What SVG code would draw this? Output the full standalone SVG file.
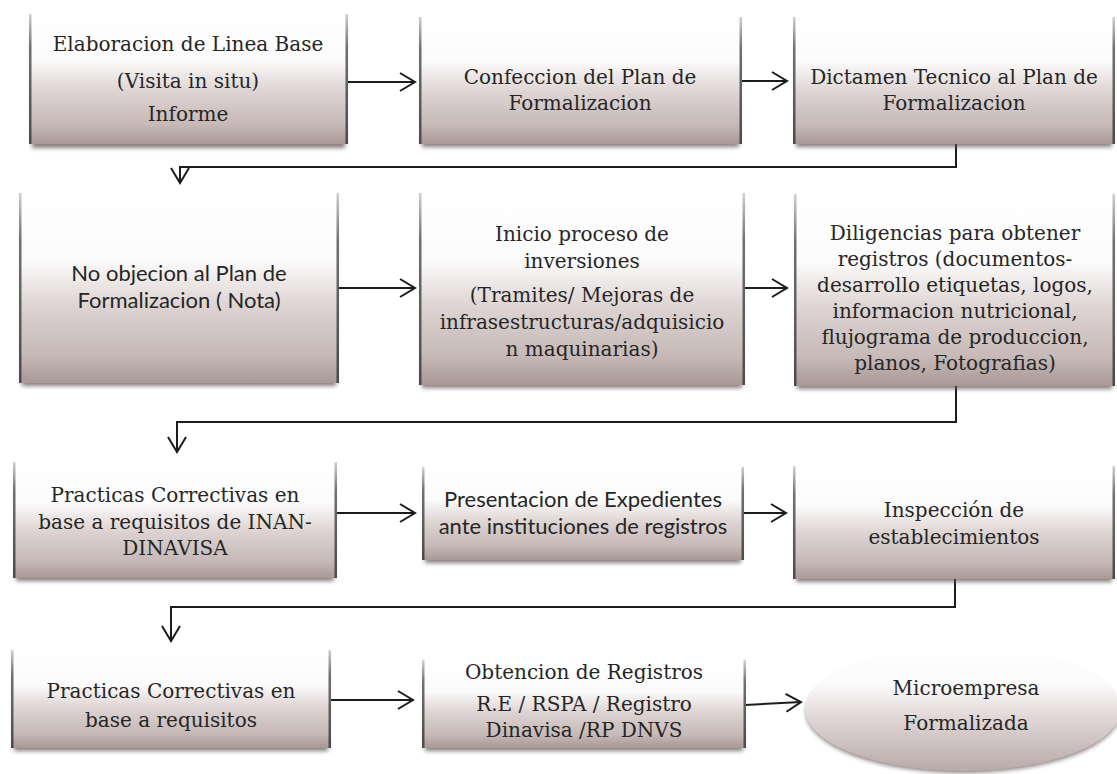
<svg xmlns="http://www.w3.org/2000/svg" width="1117" height="774" viewBox="0 0 1117 774">
<style>
.box{fill:url(#boxFill)}
.edge{fill:url(#edgeFill)}
.shadow{fill:#5e5251;opacity:0.75;filter:url(#blur)}
.serif{font-family:"DejaVu Serif","Liberation Serif",serif;font-size:20px;fill:#262626;text-anchor:middle}
.sans{font-family:Lato,"Liberation Sans",sans-serif;font-size:22px;fill:#262626;text-anchor:middle}
.conn{fill:none;stroke:#1c1c1c;stroke-width:2}
</style>
<defs>
<linearGradient id="boxFill" x1="0" y1="0" x2="0" y2="1">
<stop offset="0" stop-color="#ffffff"/>
<stop offset="0.35" stop-color="#fcfbfb"/>
<stop offset="0.6" stop-color="#dcd3d2"/>
<stop offset="0.85" stop-color="#c6b9b7"/>
<stop offset="1" stop-color="#a89896"/>
</linearGradient>
<linearGradient id="ellFill" x1="0" y1="0" x2="0" y2="1">
<stop offset="0" stop-color="#ffffff"/>
<stop offset="0.3" stop-color="#fbfafa"/>
<stop offset="0.6" stop-color="#ddd4d3"/>
<stop offset="1" stop-color="#b8aaa8"/>
</linearGradient>
<linearGradient id="edgeFill" x1="0" y1="0" x2="0" y2="1">
<stop offset="0" stop-color="#d0d0d0"/>
<stop offset="0.25" stop-color="#707070"/>
<stop offset="1" stop-color="#4a4a4a"/>
</linearGradient>
<filter id="blur" x="-10%" y="-10%" width="120%" height="130%">
<feGaussianBlur stdDeviation="2"/>
</filter>
<marker id="arr" viewBox="-18 -11 20 22" refX="0" refY="0" markerWidth="20" markerHeight="22" markerUnits="userSpaceOnUse" orient="auto">
<path d="M-15,-9 L0,0 L-15,9" fill="none" stroke="#1c1c1c" stroke-width="2"/>
</marker>
</defs>
<rect width="1117" height="774" fill="#ffffff"/>

<g id="connectors">
<path class="conn" d="M347,82 H415" marker-end="url(#arr)"/>
<path class="conn" d="M741,81 H787" marker-end="url(#arr)"/>
<path class="conn" d="M956,144 V167 H180 V183" marker-end="url(#arr)"/>
<path class="conn" d="M338,288 H415" marker-end="url(#arr)"/>
<path class="conn" d="M744,288 H787" marker-end="url(#arr)"/>
<path class="conn" d="M956,384 V422 H177 V452" marker-end="url(#arr)"/>
<path class="conn" d="M336,513 H415" marker-end="url(#arr)"/>
<path class="conn" d="M743,513 H786" marker-end="url(#arr)"/>
<path class="conn" d="M955,579 V607 H171 V641" marker-end="url(#arr)"/>
<path class="conn" d="M330,700 H413" marker-end="url(#arr)"/>
<path class="conn" d="M745,705 L801,702" marker-end="url(#arr)"/>
</g>

<g id="n1">
<rect class="shadow" x="32" y="20" width="313" height="128"/>
<rect class="box" x="30" y="14" width="317" height="130"/>
<rect class="edge" x="29" y="14" width="2.5" height="130"/>
<rect class="edge" x="345.5" y="14" width="2.5" height="130"/>
<text class="serif" x="188" y="51">Elaboracion de Linea Base</text>
<text class="serif" x="188" y="88">(Visita in situ)</text>
<text class="serif" x="188" y="121">Informe</text>
</g>

<g id="n2">
<rect class="shadow" x="422" y="23" width="317" height="124"/>
<rect class="box" x="420" y="17" width="321" height="127"/>
<rect class="edge" x="419" y="17" width="2.5" height="127"/>
<rect class="edge" x="739.5" y="17" width="2.5" height="127"/>
<text class="serif" x="580" y="84">Confeccion del Plan de</text>
<text class="serif" x="580" y="110">Formalizacion</text>
</g>

<g id="n3">
<rect class="shadow" x="796" y="23" width="316" height="124"/>
<rect class="box" x="794" y="17" width="320" height="127"/>
<rect class="edge" x="793" y="17" width="2.5" height="127"/>
<rect class="edge" x="1112.5" y="17" width="2.5" height="127"/>
<text class="serif" x="954" y="84">Dictamen Tecnico al Plan de</text>
<text class="serif" x="954" y="110">Formalizacion</text>
</g>

<g id="n4">
<rect class="shadow" x="22" y="199" width="314" height="187"/>
<rect class="box" x="20" y="193" width="318" height="190"/>
<rect class="edge" x="19" y="193" width="2.5" height="190"/>
<rect class="edge" x="336.5" y="193" width="2.5" height="190"/>
<text class="sans" x="179" y="281">No objecion al Plan de</text>
<text class="sans" x="179" y="308">Formalizacion ( Nota)</text>
</g>

<g id="n5">
<rect class="shadow" x="422" y="199" width="320" height="189"/>
<rect class="box" x="420" y="193" width="324" height="192"/>
<rect class="edge" x="419" y="193" width="2.5" height="192"/>
<rect class="edge" x="742.5" y="193" width="2.5" height="192"/>
<text class="serif" x="582" y="241">Inicio proceso de</text>
<text class="serif" x="582" y="268">inversiones</text>
<text class="serif" x="582" y="302">(Tramites/ Mejoras de</text>
<text class="serif" x="582" y="329">infrasestructuras/adquisicio</text>
<text class="serif" x="582" y="356">n maquinarias)</text>
</g>

<g id="n6">
<rect class="shadow" x="797" y="200" width="315" height="189"/>
<rect class="box" x="795" y="194" width="319" height="192"/>
<rect class="edge" x="794" y="194" width="2.5" height="192"/>
<rect class="edge" x="1112.5" y="194" width="2.5" height="192"/>
<text class="serif" x="955" y="240">Diligencias para obtener</text>
<text class="serif" x="955" y="266">registros (documentos-</text>
<text class="serif" x="955" y="292">desarrollo etiquetas, logos,</text>
<text class="serif" x="955" y="318">informacion nutricional,</text>
<text class="serif" x="955" y="344">flujograma de produccion,</text>
<text class="serif" x="955" y="370">planos, Fotografias)</text>
</g>

<g id="n7">
<rect class="shadow" x="16" y="468" width="318" height="113"/>
<rect class="box" x="14" y="462" width="322" height="116"/>
<rect class="edge" x="13" y="462" width="2.5" height="116"/>
<rect class="edge" x="334.5" y="462" width="2.5" height="116"/>
<text class="serif" x="175" y="502">Practicas Correctivas en</text>
<text class="serif" x="175" y="529">base a requisitos de INAN-</text>
<text class="serif" x="175" y="555">DINAVISA</text>
</g>

<g id="n8">
<rect class="shadow" x="425" y="473" width="316" height="90"/>
<rect class="box" x="423" y="467" width="320" height="93"/>
<rect class="edge" x="422" y="467" width="2.5" height="93"/>
<rect class="edge" x="741.5" y="467" width="2.5" height="93"/>
<text class="sans" x="583" y="507">Presentacion de Expedientes</text>
<text class="sans" x="583" y="534">ante instituciones de registros</text>
</g>

<g id="n9">
<rect class="shadow" x="796" y="472" width="316" height="110"/>
<rect class="box" x="794" y="466" width="320" height="113"/>
<rect class="edge" x="793" y="466" width="2.5" height="113"/>
<rect class="edge" x="1112.5" y="466" width="2.5" height="113"/>
<text class="serif" x="954" y="517">Inspección de</text>
<text class="serif" x="954" y="544">establecimientos</text>
</g>

<g id="n10">
<rect class="shadow" x="14" y="656" width="314" height="95"/>
<rect class="box" x="12" y="650" width="318" height="98"/>
<rect class="edge" x="11" y="650" width="2.5" height="98"/>
<rect class="edge" x="328.5" y="650" width="2.5" height="98"/>
<text class="serif" x="171" y="698">Practicas Correctivas en</text>
<text class="serif" x="171" y="727">base a requisitos</text>
</g>

<g id="n11">
<rect class="shadow" x="425" y="666" width="318" height="85"/>
<rect class="box" x="423" y="660" width="322" height="88"/>
<rect class="edge" x="422" y="660" width="2.5" height="88"/>
<rect class="edge" x="743.5" y="660" width="2.5" height="88"/>
<text class="serif" x="584" y="679">Obtencion de Registros</text>
<text class="serif" x="584" y="711">R.E / RSPA / Registro</text>
<text class="serif" x="584" y="737">Dinavisa /RP DNVS</text>
</g>

<g id="n12">
<ellipse cx="963" cy="712" rx="157" ry="61" fill="#5e5251" opacity="0.7" filter="url(#blur)"/>
<ellipse cx="963" cy="709" rx="158" ry="62" fill="url(#ellFill)"/>
<text class="serif" x="966" y="695">Microempresa</text>
<text class="serif" x="966" y="730">Formalizada</text>
</g>
</svg>
